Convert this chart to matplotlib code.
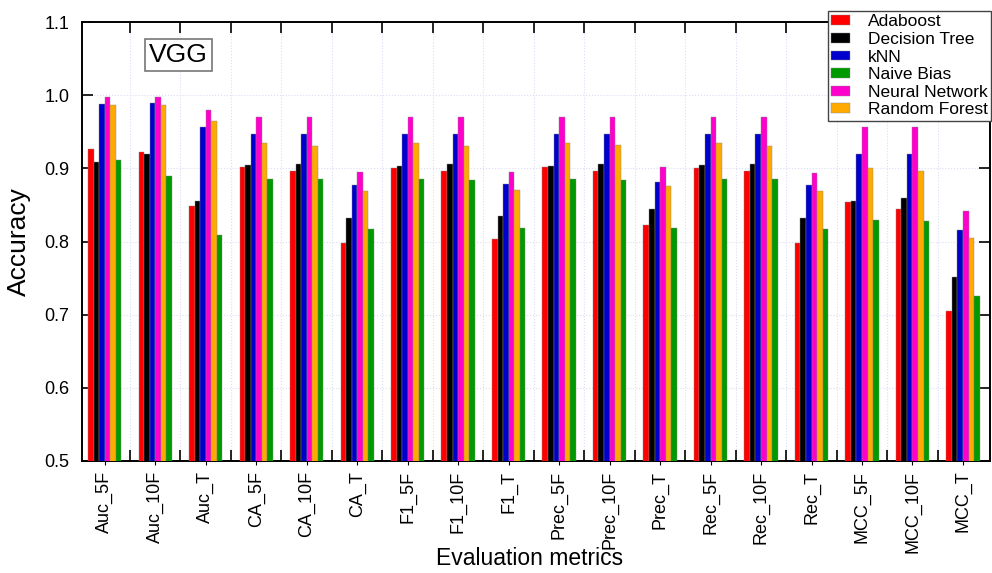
import matplotlib
matplotlib.use("Agg")
import matplotlib.pyplot as plt
import numpy as np

plt.rcParams['font.family'] = ['Liberation Sans', 'DejaVu Sans']

metrics = ['Auc_5F', 'Auc_10F', 'Auc_T', 'CA_5F', 'CA_10F', 'CA_T',
           'F1_5F', 'F1_10F', 'F1_T', 'Prec_5F', 'Prec_10F', 'Prec_T',
           'Rec_5F', 'Rec_10F', 'Rec_T', 'MCC_5F', 'MCC_10F', 'MCC_T']

adaboost = [0.926, 0.922, 0.848, 0.902, 0.896, 0.798, 0.901, 0.896, 0.803,
            0.902, 0.896, 0.823, 0.901, 0.896, 0.798, 0.854, 0.845, 0.705]
decision_tree = [0.909, 0.920, 0.855, 0.904, 0.906, 0.832, 0.903, 0.906, 0.835,
                 0.903, 0.906, 0.845, 0.904, 0.906, 0.832, 0.856, 0.860, 0.752]
knn = [0.988, 0.990, 0.957, 0.947, 0.947, 0.877, 0.947, 0.947, 0.879,
       0.947, 0.947, 0.881, 0.947, 0.947, 0.877, 0.920, 0.920, 0.816]
neural_net = [0.997, 0.997, 0.980, 0.970, 0.970, 0.895, 0.970, 0.970, 0.895,
              0.970, 0.970, 0.902, 0.970, 0.970, 0.894, 0.957, 0.957, 0.842]
random_forest = [0.986, 0.986, 0.965, 0.934, 0.931, 0.869, 0.934, 0.931, 0.870,
                 0.935, 0.932, 0.876, 0.934, 0.931, 0.869, 0.901, 0.897, 0.805]
naive_bias = [0.911, 0.890, 0.809, 0.885, 0.885, 0.817, 0.885, 0.884, 0.818,
              0.885, 0.884, 0.818, 0.885, 0.885, 0.817, 0.829, 0.828, 0.726]

# bar order inside a group (left to right)
series = [
    ('Adaboost', adaboost, '#ff0000'),
    ('Decision Tree', decision_tree, '#000000'),
    ('kNN', knn, '#0000cc'),
    ('Neural Network', neural_net, '#ff00cc'),
    ('Random Forest', random_forest, '#ffaa00'),
    ('Naive Bias', naive_bias, '#009900'),
]
legend_order = ['Adaboost', 'Decision Tree', 'kNN', 'Naive Bias',
                'Neural Network', 'Random Forest']

fig = plt.figure(figsize=(9.92, 5.73), dpi=100)
ax = fig.add_axes([0.0827, 0.1955, 0.915, 0.766])

x = np.arange(len(metrics))
w = 0.11
bars = {}
for i, (name, vals, col) in enumerate(series):
    bars[name] = ax.bar(x + (i - 2.5) * w, vals, w, color=col, label=name,
                        edgecolor='#888888', linewidth=0.3, zorder=3)

ax.set_xlim(-0.45, 17.53)
ax.set_ylim(0.5, 1.1)
ax.set_yticks(np.arange(0.5, 1.11, 0.1))
ax.set_yticklabels(['0.5', '0.6', '0.7', '0.8', '0.9', '1.0', '1.1'], fontsize=13)

ax.set_xticks(x)
ax.set_xticklabels(metrics, rotation=90, fontsize=13)
ax.set_xticks(np.arange(0.5, 17.5, 1), minor=True)
ax.tick_params(axis='x', which='major', direction='out', length=3, width=0.8, pad=4)
ax.tick_params(axis='x', which='minor', direction='in', length=8, width=1.2,
               top=True, bottom=True)
ax.tick_params(axis='y', which='major', direction='in', length=8, width=1.2,
               left=True, right=True, pad=9)

ax.grid(True, axis='y', which='major', color='#dcdcf5', linestyle=':', linewidth=0.8, zorder=0)
ax.grid(True, axis='x', which='minor', color='#dcdcf5', linestyle=':', linewidth=0.8, zorder=0)

for s in ax.spines.values():
    s.set_linewidth(1.4)

fig.text(0.534, 0.006, 'Evaluation metrics', fontsize=16.5, ha='center', va='bottom')
ax.set_ylabel('Accuracy', fontsize=19, labelpad=10)

ax.text(0.074, 0.908, 'VGG', transform=ax.transAxes, fontsize=19,
        bbox=dict(boxstyle='square,pad=0.15', facecolor='white', edgecolor='#777777', linewidth=1.2),
        zorder=5)

handles = [bars[n] for n in legend_order]
leg = fig.legend(handles, legend_order, loc='upper right',
                 bbox_to_anchor=(0.999, 1 - 11 / 573), bbox_transform=fig.transFigure,
                 fontsize=12.5, frameon=True, fancybox=False, framealpha=1,
                 edgecolor='#444444', borderpad=0.2, labelspacing=0.15,
                 handlelength=1.1, handleheight=0.5, handletextpad=1.0,
                 borderaxespad=0)
leg.get_frame().set_linewidth(1.0)
leg.set_zorder(10)

fig.savefig('out.png', dpi=100)
